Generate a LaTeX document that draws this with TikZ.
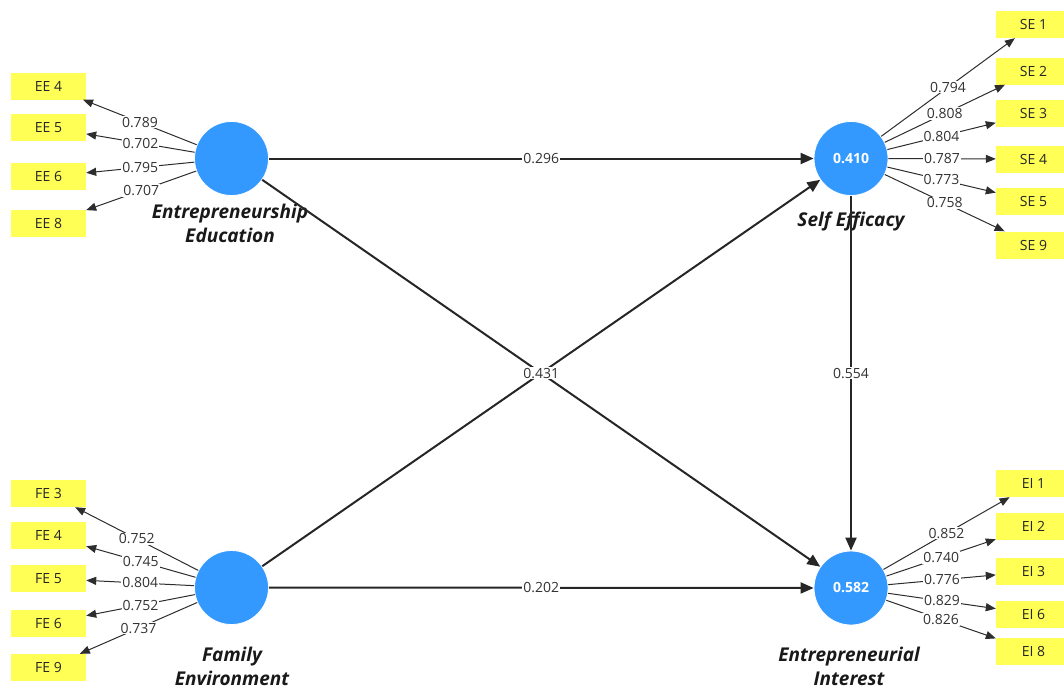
\documentclass[tikz,border=0pt]{standalone}
\usepackage{fontspec}
\setmainfont{Open Sans}
\usetikzlibrary{arrows.meta}
\definecolor{lvblue}{RGB}{51,153,255}
\definecolor{indyellow}{RGB}{255,255,85}
\definecolor{linegray}{RGB}{45,45,45}
\tikzset{
  lv/.style={circle, fill=lvblue, draw=white, line width=0.8pt, minimum size=74, inner sep=0pt, text=white, font=\fontsize{14}{16}\selectfont\bfseries},
  ind/.style={rectangle, fill=indyellow, minimum width=75, minimum height=27, inner sep=0pt, font=\fontsize{14}{16}\selectfont, text=black!85},
  lvname/.style={font=\fontsize{19}{24}\selectfont\bfseries\itshape, align=center, text=black!90},
  load/.style={draw=linegray, line width=1pt, -{Triangle[length=10pt,width=8pt]}},
  path/.style={draw=black!85, line width=2pt, -{Triangle[length=13pt,width=11pt]}},
  coef/.style={fill=white, inner sep=1pt, font=\fontsize{14}{16}\selectfont, text=black!80},
}
\begin{document}
\begin{tikzpicture}[x=1pt,y=-1pt]
\useasboundingbox (0,0) rectangle (1064,686);
% latent variables
\node[lv] (EE) at (231.5,158.5) {};
\node[lv] (SE) at (851,158.5) {0.410};
\node[lv] (FE) at (231.5,587.5) {};
\node[lv] (EI) at (851,588) {0.582};
% names
\node[lvname] (EEn) at (230,223) {Entrepreneurship\\Education};
\node[lvname] (SEn) at (851,222) {Self Efficacy};
\node[lvname] (FEn) at (232,666) {Family\\Environment};
\node[lvname] (EIn) at (849,666) {Entrepreneurial\\Interest};
% indicators
\node[ind] (ee4) at (48.5,86) {EE 4};
\node[ind] (ee5) at (48.5,127.5) {EE 5};
\node[ind] (ee6) at (48.5,176.5) {EE 6};
\node[ind] (ee8) at (48.5,223.5) {EE 8};
\node[ind] (fe3) at (48.5,493.5) {FE 3};
\node[ind] (fe4) at (48.5,535.5) {FE 4};
\node[ind] (fe5) at (48.5,578.5) {FE 5};
\node[ind] (fe6) at (48.5,623) {FE 6};
\node[ind] (fe9) at (48.5,667.5) {FE 9};
\node[ind] (se1) at (1033.5,24.5) {SE 1};
\node[ind] (se2) at (1033.5,71) {SE 2};
\node[ind] (se3) at (1033.5,113.5) {SE 3};
\node[ind] (se4) at (1033.5,159) {SE 4};
\node[ind] (se5) at (1033.5,201.5) {SE 5};
\node[ind] (se9) at (1033.5,245) {SE 9};
\node[ind] (ei1) at (1033.5,483.5) {EI 1};
\node[ind] (ei2) at (1033.5,526.5) {EI 2};
\node[ind] (ei3) at (1033.5,571.5) {EI 3};
\node[ind] (ei6) at (1033.5,614) {EI 6};
\node[ind] (ei8) at (1033.5,651.5) {EI 8};
% loadings
\draw[load] (EE) -- node[coef]{0.789} (ee4);
\draw[load] (EE) -- node[coef]{0.702} (ee5);
\draw[load] (EE) -- node[coef]{0.795} (ee6);
\draw[load] (EE) -- node[coef]{0.707} (ee8);
\draw[load] (FE) -- node[coef]{0.752} (fe3);
\draw[load] (FE) -- node[coef]{0.745} (fe4);
\draw[load] (FE) -- node[coef]{0.804} (fe5);
\draw[load] (FE) -- node[coef]{0.752} (fe6);
\draw[load] (FE) -- node[coef]{0.737} (fe9);
\draw[load] (SE) -- node[coef]{0.794} (se1);
\draw[load] (SE) -- node[coef]{0.808} (se2);
\draw[load] (SE) -- node[coef]{0.804} (se3);
\draw[load] (SE) -- node[coef]{0.787} (se4);
\draw[load] (SE) -- node[coef]{0.773} (se5);
\draw[load] (SE) -- node[coef]{0.758} (se9);
\draw[load] (EI) -- node[coef]{0.852} (ei1);
\draw[load] (EI) -- node[coef]{0.740} (ei2);
\draw[load] (EI) -- node[coef]{0.776} (ei3);
\draw[load] (EI) -- node[coef]{0.829} (ei6);
\draw[load] (EI) -- node[coef]{0.826} (ei8);
% structural paths
\draw[path] (EE) -- node[coef]{0.296} (SE);
\draw[path] (FE) -- (SE);
\draw[path] (EE) -- node[coef]{0.431} (EI);
\draw[path] (SE) -- node[coef]{0.554} (EI);
\draw[path] (FE) -- node[coef]{0.202} (EI);
\end{tikzpicture}
\end{document}
